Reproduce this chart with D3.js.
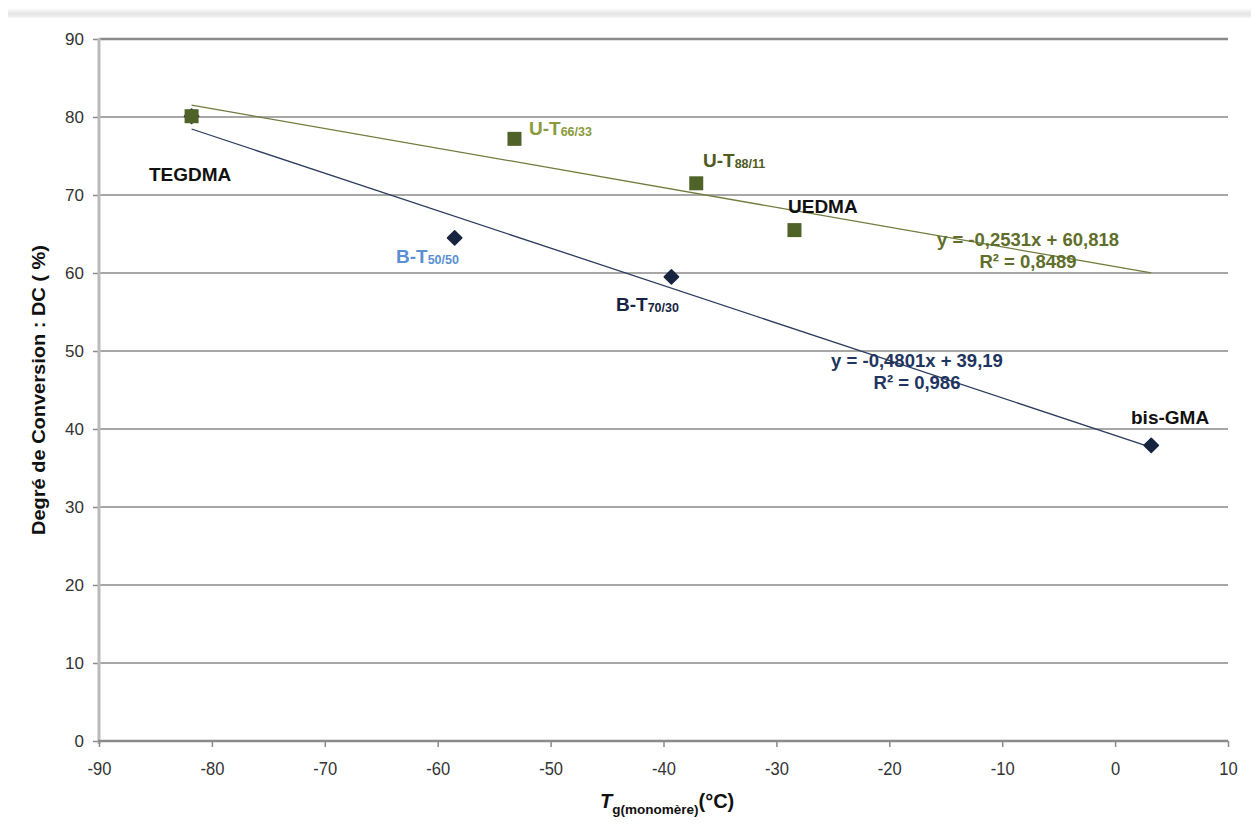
<!DOCTYPE html>
<html><head><meta charset="utf-8">
<script src="https://cdn.jsdelivr.net/npm/d3@7"></script>
<style>body{margin:0;background:#fff}svg{display:block}</style>
</head><body>
<svg id="c" width="1251" height="832"></svg>
<script>
// ---- data ----
const xTicks = [-90,-80,-70,-60,-50,-40,-30,-20,-10,0,10];
const yTicks = [0,10,20,30,40,50,60,70,80,90];
// UDMA/TEGDMA series (squares)
const uNames = ["TEGDMA","U-T66/33","U-T88/11","UEDMA"];
const uX = [-81.8,-53.2,-37.1,-28.4];
const uY = [80.1,77.2,71.5,65.5];
// bis-GMA/TEGDMA series (diamonds)
const bNames = ["TEGDMA","B-T50/50","B-T70/30","bis-GMA"];
const bX = [-81.8,-58.5,-39.3,3.2];
const bY = [80.1,64.5,59.5,37.9];
// linear trend lines [slope, intercept, xStart, xEnd]
const uTrend = [-0.2531,60.818,-81.8,3.2];
const bTrend = [-0.4801,39.19,-81.8,3.2];

const svg = d3.select("#c");
const L=99,R=1228,T=39,B=741;
const x = d3.scaleLinear().domain([-90,10]).range([L,R]);
const y = d3.scaleLinear().domain([0,90]).range([B,T]);
const FONT = "'Liberation Sans', Arial, sans-serif";

// top shadow
const defs = svg.append("defs");
const g1 = defs.append("linearGradient").attr("id","sh").attr("x1",0).attr("y1",0).attr("x2",0).attr("y2",1);
g1.append("stop").attr("offset","0").attr("stop-color","#fff");
g1.append("stop").attr("offset","0.6").attr("stop-color","#e4e4e4");
g1.append("stop").attr("offset","1").attr("stop-color","#f6f6f6");
svg.append("rect").attr("x",8).attr("y",8).attr("width",1243).attr("height",10).attr("fill","url(#sh)");

// gridlines
svg.append("g").selectAll("line").data(yTicks.filter(d=>d>0)).join("line")
  .attr("x1",L).attr("x2",R).attr("y1",d=>y(d)).attr("y2",d=>y(d))
  .attr("stroke","#8a8a8a").attr("stroke-width",d=>d===90?2.5:1.3);

// y axis
const ya = svg.append("g").attr("transform",`translate(${L},0)`)
  .call(d3.axisLeft(y).tickValues(yTicks).tickSize(6).tickPadding(9).tickFormat(d=>String(d)));
ya.select(".domain").remove();
ya.selectAll(".tick line").attr("stroke","#8a8a8a").attr("stroke-width",1.5);
ya.selectAll(".tick text").attr("font-family",FONT).attr("font-size",17).attr("fill","#333");
svg.append("line").attr("x1",L).attr("x2",L).attr("y1",T-1).attr("y2",B+3).attr("stroke","#bbb").attr("stroke-width",3);

// x axis
const xa = svg.append("g").attr("transform",`translate(0,${B})`)
  .call(d3.axisBottom(x).tickValues(xTicks).tickSize(6).tickPadding(0).tickFormat(d=>String(d)));
xa.select(".domain").remove();
xa.selectAll(".tick line").attr("stroke","#8a8a8a").attr("stroke-width",1.5);
xa.selectAll(".tick text").attr("font-family",FONT).attr("font-size",18).attr("fill","#333")
  .attr("dy",null).attr("y",34).attr("transform","scale(0.92,1)");
svg.append("line").attr("x1",L-1).attr("x2",R).attr("y1",B).attr("y2",B).attr("stroke","#8a8a8a").attr("stroke-width",2.5);

// trend lines
function trend(t,color){
  const pts=[t[2],t[3]].map(v=>[x(v),y(t[0]*v+t[1])]);
  svg.append("line").attr("x1",pts[0][0]).attr("y1",pts[0][1]).attr("x2",pts[1][0]).attr("y2",pts[1][1])
    .attr("stroke",color).attr("stroke-width",1.3);
}
trend(uTrend,"#6f7d3c");
trend(bTrend,"#2c3b5e");

// markers
const diamond = d3.symbol().type(d3.symbolDiamond2).size(130);
svg.append("g").selectAll("path").data(bX.map((v,i)=>[v,bY[i]])).join("path")
  .attr("d",diamond).attr("transform",d=>`translate(${x(d[0])},${y(d[1])})`).attr("fill","#17243f")
  .attr("stroke","#17243f").attr("stroke-width",1.5).attr("stroke-linejoin","round");
svg.append("g").selectAll("rect").data(uX.map((v,i)=>[v,uY[i]])).join("rect")
  .attr("x",d=>x(d[0])-7).attr("y",d=>y(d[1])-7).attr("width",14).attr("height",14).attr("fill","#4f6228");

// point labels
function lab(name,px,py,color){
  const parts = name.split(/(?<=T)(?=\d)/);
  const t = svg.append("text").attr("x",px).attr("y",py).attr("font-family",FONT)
    .attr("font-weight","bold").attr("font-size",19).attr("fill",color);
  t.append("tspan").text(parts[0]);
  if(parts[1]) t.append("tspan").attr("font-size",12.5).attr("dy",1).text(parts[1]);
}
lab(uNames[0],149,181,"#111");
lab(uNames[1],529,135,"#8a9a3c");
lab(uNames[2],703,167,"#4f5a22");
lab(uNames[3],788,213,"#111");
lab(bNames[1],396,263,"#5b8fd4");
lab(bNames[2],616,311,"#17243f");
lab(bNames[3],1131,424,"#111");

// equations
function eq(lines,cx,cy,color){
  lines.forEach((s,i)=>svg.append("text").attr("x",cx).attr("y",cy+i*22).attr("text-anchor","middle")
    .attr("font-family",FONT).attr("font-weight","bold").attr("font-size",18.5).attr("fill",color).text(s));
}
eq(["y = -0,2531x + 60,818","R² = 0,8489"],1028,246,"#5f6e2a");
eq(["y = -0,4801x + 39,19","R² = 0,986"],917,367,"#1f3560");

// axis titles
svg.append("text").attr("transform","translate(45,390) rotate(-90)").attr("text-anchor","middle")
  .attr("font-family",FONT).attr("font-weight","bold").attr("font-size",18).attr("fill","#111")
  .attr("textLength",290).attr("lengthAdjust","spacingAndGlyphs")
  .text("Degré de Conversion : DC ( %)");
const xt = svg.append("text").attr("x",600).attr("y",808).attr("font-family",FONT)
  .attr("font-weight","bold").attr("fill","#111").attr("font-size",20);
xt.append("tspan").attr("font-style","italic").text("T");
xt.append("tspan").attr("font-size",13.5).attr("dy",6).text("g(monomère)");
xt.append("tspan").attr("dy",-6).text("(°C)");
</script>
</body></html>
